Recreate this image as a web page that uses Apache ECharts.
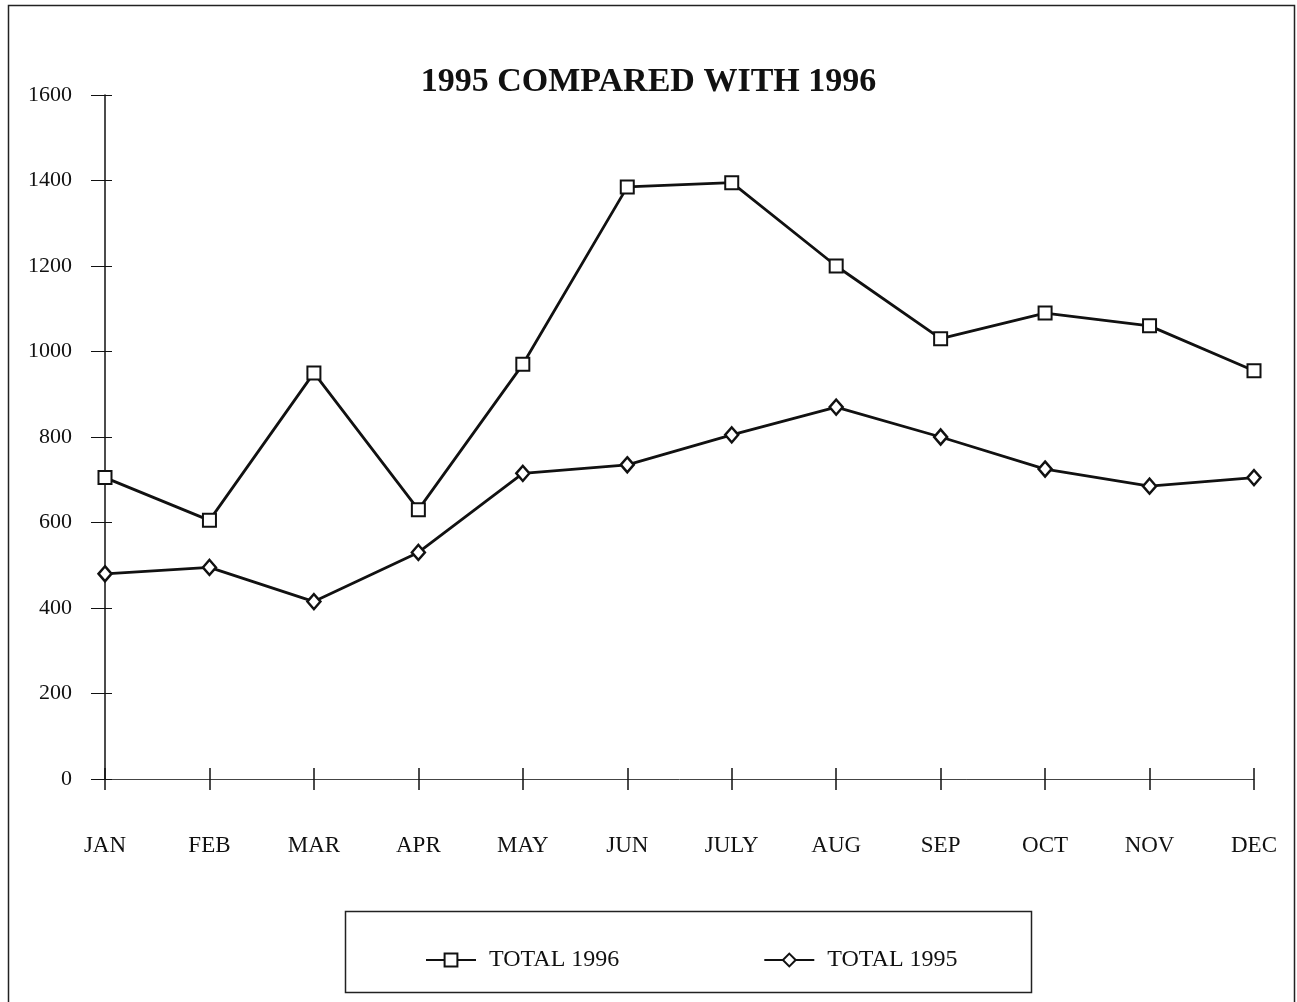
<!DOCTYPE html>
<html>
<head>
<meta charset="utf-8">
<style>
  html, body { margin: 0; padding: 0; background: #fff; }
  #chart { width: 1297px; height: 1002px; }
</style>
<script src="https://cdn.jsdelivr.net/npm/echarts@6/dist/echarts.min.js"></script>
</head>
<body>
<div id="chart"></div>
<script>
const months = ['JAN', 'FEB', 'MAR', 'APR', 'MAY', 'JUN', 'JULY', 'AUG', 'SEP', 'OCT', 'NOV', 'DEC'];
const total1996 = [705, 605, 950, 630, 970, 1385, 1395, 1200, 1030, 1090, 1060, 955];
const total1995 = [480, 495, 415, 530, 715, 735, 805, 870, 800, 725, 685, 705];
const yTicks = [0, 200, 400, 600, 800, 1000, 1200, 1400, 1600];

const serif = '"Liberation Serif", "Times New Roman", serif';
const ink = '#111';

const chart = echarts.init(document.getElementById('chart'), null, { renderer: 'canvas' });

const yBase = {
  type: 'value', min: yTicks[0], max: yTicks[yTicks.length - 1], interval: 200,
  splitLine: { show: false }
};
const xBase = { type: 'category', data: months, boundaryGap: false };

chart.setOption({
  backgroundColor: '#fff',
  animation: false,
  title: {
    text: '1995 COMPARED WITH 1996',
    left: 'center', top: 60,
    textStyle: { fontFamily: serif, fontWeight: 'bold', fontSize: 34, color: ink }
  },
  grid: { left: 105, right: 43, top: 95, bottom: 223, containLabel: false },
  xAxis: [
    Object.assign({}, xBase, {
      axisLine: { show: true, lineStyle: { color: '#444', width: 1 } },
      axisTick: { show: true, alignWithLabel: true, length: 11, lineStyle: { color: ink, width: 1.5 } },
      axisLabel: { margin: 55, fontFamily: serif, fontSize: 23, color: ink }
    }),
    Object.assign({}, xBase, {
      position: 'bottom',
      axisLine: { show: false },
      axisTick: { show: true, inside: true, alignWithLabel: true, length: 11, lineStyle: { color: ink, width: 1.5 } },
      axisLabel: { show: false }
    })
  ],
  yAxis: [
    Object.assign({}, yBase, {
      axisLine: { show: true, lineStyle: { color: ink, width: 1.5 } },
      axisTick: { show: true, length: 14, lineStyle: { color: ink, width: 1 } },
      axisLabel: { margin: 33, fontFamily: serif, fontSize: 22, color: ink, formatter: v => String(v) }
    }),
    Object.assign({}, yBase, {
      position: 'left',
      axisLine: { show: false },
      axisTick: { show: true, inside: true, length: 7, lineStyle: { color: ink, width: 1 } },
      axisLabel: { show: false }
    })
  ],
  legend: {
    left: 420, top: 943,
    itemWidth: 50, itemHeight: 16, itemGap: 144,
    textStyle: { fontFamily: serif, fontSize: 24, color: ink, padding: [0, 0, 0, 8] },
    data: ['TOTAL 1996', 'TOTAL 1995']
  },
  graphic: [
    { type: 'rect', silent: true, shape: { x: 8.5, y: 5.5, width: 1286, height: 1010 },
      style: { fill: 'none', stroke: '#222', lineWidth: 1.5 } },
    { type: 'rect', silent: true, shape: { x: 345.5, y: 911.5, width: 686, height: 81 },
      style: { fill: 'none', stroke: '#222', lineWidth: 1.5 } }
  ],
  series: [
    {
      name: 'TOTAL 1996', type: 'line', data: total1996,
      symbol: 'rect', symbolSize: 13,
      lineStyle: { color: ink, width: 2.8 },
      itemStyle: { color: '#fff', borderColor: ink, borderWidth: 2 }
    },
    {
      name: 'TOTAL 1995', type: 'line', data: total1995,
      symbol: 'diamond', symbolSize: [13, 15],
      lineStyle: { color: ink, width: 2.8 },
      itemStyle: { color: '#fff', borderColor: ink, borderWidth: 2.5 }
    }
  ]
});
</script>
</body>
</html>
